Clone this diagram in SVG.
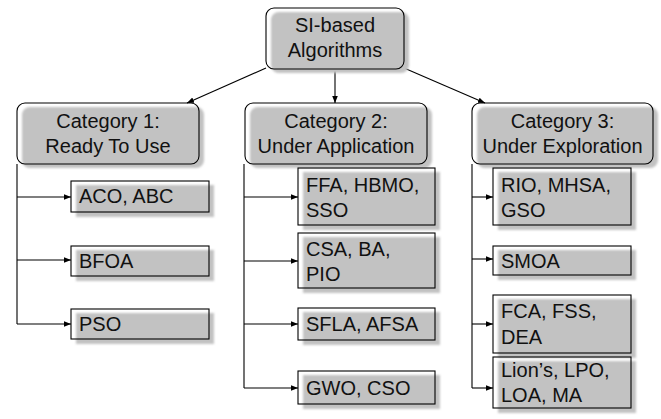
<svg xmlns="http://www.w3.org/2000/svg" width="661" height="419" viewBox="0 0 661 419">
<style>
  text { font-family: "Liberation Sans", Arial, sans-serif; font-size: 20px; fill: #111; }
  .c { text-anchor: middle; }
  .sh { fill: #c2c2c2; filter: url(#blur); }
  .box { fill: none; stroke: #000; stroke-width: 1.1; }
  .conn { fill: none; stroke: #000; stroke-width: 1.1; marker-end: url(#arr); }
</style>
<defs>
  <filter id="blur" x="-10%" y="-10%" width="120%" height="120%">
    <feGaussianBlur stdDeviation="0.8"/>
  </filter>
  <marker id="arr" viewBox="0 0 10 10" refX="10" refY="5" markerWidth="7" markerHeight="7" markerUnits="userSpaceOnUse" orient="auto">
    <path d="M0,1 L10,5 L0,9 z" fill="#000"/>
  </marker>
</defs>

<g id="connectors">
  <path class="conn" d="M266,68 L187,103"/>
  <path class="conn" d="M335,69 L335,103"/>
  <path class="conn" d="M404,68 L485,103"/>
  <path fill="none" stroke="#000" stroke-width="1.1" d="M17,164 V324 M244,164 V388 M472,164 V388"/>
  <path class="conn" d="M17,197 H71"/>
  <path class="conn" d="M17,260 H71"/>
  <path class="conn" d="M17,324 H71"/>
  <path class="conn" d="M244,197 H298"/>
  <path class="conn" d="M244,261 H298"/>
  <path class="conn" d="M244,324 H298"/>
  <path class="conn" d="M244,388 H298"/>
  <path class="conn" d="M472,197 H493"/>
  <path class="conn" d="M472,259 H493"/>
  <path class="conn" d="M472,324 H493"/>
  <path class="conn" d="M472,388 H493"/>
</g>

<g id="root">
  <rect class="sh" x="271" y="12" width="138" height="61" rx="8"/>
  <rect class="box" x="266" y="8" width="138" height="61" rx="8"/>
  <text class="c" x="335" y="32">SI-based</text>
  <text class="c" x="335" y="57">Algorithms</text>
</g>

<g id="cat1">
  <rect class="sh" x="22" y="107" width="182" height="61" rx="8"/>
  <rect class="box" x="17" y="103" width="182" height="61" rx="8"/>
  <text class="c" x="108" y="128">Category 1:</text>
  <text class="c" x="108" y="153">Ready To Use</text>
</g>
<g id="cat2">
  <rect class="sh" x="250" y="107" width="182" height="61" rx="8"/>
  <rect class="box" x="245" y="103" width="182" height="61" rx="8"/>
  <text class="c" x="336" y="128">Category 2:</text>
  <text class="c" x="336" y="153">Under Application</text>
</g>
<g id="cat3">
  <rect class="sh" x="477" y="107" width="181" height="61" rx="8"/>
  <rect class="box" x="472" y="103" width="181" height="61" rx="8"/>
  <text class="c" x="562.5" y="128">Category 3:</text>
  <text class="c" x="562.5" y="153">Under Exploration</text>
</g>

<g id="aco">
  <rect class="sh" x="76" y="185" width="138" height="32"/>
  <rect class="box" x="71" y="181" width="138" height="31"/>
  <text x="79" y="203">ACO, ABC</text>
</g>
<g id="bfoa">
  <rect class="sh" x="76" y="250" width="138" height="31"/>
  <rect class="box" x="71" y="246" width="138" height="30"/>
  <text x="79" y="268">BFOA</text>
</g>
<g id="pso">
  <rect class="sh" x="76" y="313" width="138" height="31"/>
  <rect class="box" x="71" y="309" width="138" height="30"/>
  <text x="79" y="331">PSO</text>
</g>

<g id="ffa">
  <rect class="sh" x="303" y="172" width="137" height="58"/>
  <rect class="box" x="298" y="168" width="137" height="57"/>
  <text x="306" y="192">FFA, HBMO,</text>
  <text x="306" y="217">SSO</text>
</g>
<g id="csa">
  <rect class="sh" x="303" y="237" width="137" height="56"/>
  <rect class="box" x="298" y="233" width="137" height="55"/>
  <text x="306" y="256">CSA, BA,</text>
  <text x="306" y="281">PIO</text>
</g>
<g id="sfla">
  <rect class="sh" x="303" y="312" width="137" height="33"/>
  <rect class="box" x="298" y="308" width="137" height="32"/>
  <text x="306" y="331">SFLA, AFSA</text>
</g>
<g id="gwo">
  <rect class="sh" x="303" y="375" width="137" height="34"/>
  <rect class="box" x="298" y="371" width="137" height="33"/>
  <text x="306" y="395">GWO, CSO</text>
</g>

<g id="rio">
  <rect class="sh" x="498" y="172" width="138" height="58"/>
  <rect class="box" x="493" y="168" width="138" height="57"/>
  <text x="501" y="192">RIO, MHSA,</text>
  <text x="501" y="217">GSO</text>
</g>
<g id="smoa">
  <rect class="sh" x="498" y="250" width="138" height="30"/>
  <rect class="box" x="493" y="246" width="138" height="29"/>
  <text x="501" y="268">SMOA</text>
</g>
<g id="fca">
  <rect class="sh" x="498" y="299" width="138" height="59"/>
  <rect class="box" x="493" y="295" width="138" height="58"/>
  <text x="501" y="318">FCA, FSS,</text>
  <text x="501" y="344">DEA</text>
</g>
<g id="lion">
  <rect class="sh" x="498" y="361" width="138" height="52"/>
  <rect class="box" x="493" y="357" width="138" height="51"/>
  <text x="501" y="377">Lion’s, LPO,</text>
  <text x="501" y="402">LOA, MA</text>
</g>
</svg>
